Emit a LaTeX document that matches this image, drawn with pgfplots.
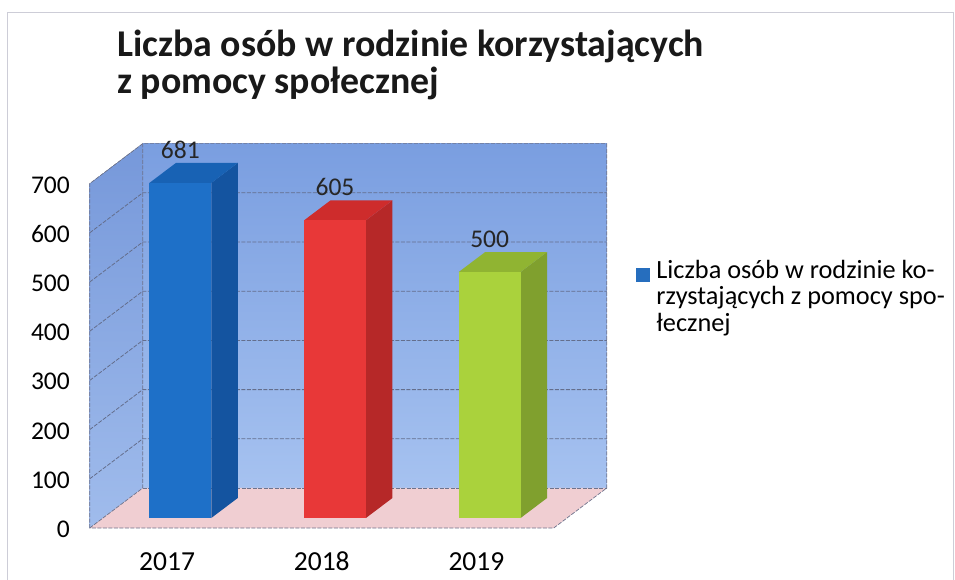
\documentclass[border=0pt]{standalone}
\usepackage{fontspec}
\setmainfont{Carlito}
\usepackage{pgfplots}
\pgfplotsset{compat=1.18}
\usetikzlibrary{calc}
\definecolor{walltop}{RGB}{122,158,224}
\definecolor{wallbot}{RGB}{166,194,240}
\definecolor{lwalltop}{RGB}{118,152,218}
\definecolor{lwallbot}{RGB}{160,188,236}
\definecolor{floorc}{RGB}{240,206,210}
\definecolor{gridc}{RGB}{100,110,140}
\definecolor{edgec}{RGB}{110,115,140}
\definecolor{bordergray}{RGB}{205,205,215}
\definecolor{bluefront}{RGB}{30,112,200}
\definecolor{blueside}{RGB}{20,84,160}
\definecolor{bluetop}{RGB}{24,98,180}
\definecolor{redfront}{RGB}{232,56,56}
\definecolor{redside}{RGB}{182,40,40}
\definecolor{redtop}{RGB}{206,44,44}
\definecolor{grnfront}{RGB}{170,210,60}
\definecolor{grnside}{RGB}{128,160,46}
\definecolor{grntop}{RGB}{144,180,50}
\definecolor{legblue}{RGB}{38,110,190}
% depth offsets: front plane F, back plane B, bar depth S
\def\Fx{-13.25bp}\def\Fy{-10bp}
\def\Bx{39.75bp}\def\By{30bp}
\def\Sx{26.5bp}\def\Sy{20bp}
\newcommand\barfaces[5]{% xl, xr, value, side colour, top colour
  \fill[#4] (axis cs:#2,0) -- (axis cs:#2,#3) -- ($(axis cs:#2,#3)+(\Sx,\Sy)$) -- ($(axis cs:#2,0)+(\Sx,\Sy)$) -- cycle;
  \fill[#5] (axis cs:#1,#3) -- (axis cs:#2,#3) -- ($(axis cs:#2,#3)+(\Sx,\Sy)$) -- ($(axis cs:#1,#3)+(\Sx,\Sy)$) -- cycle;
}
\begin{document}
\begin{tikzpicture}
\useasboundingbox (0,0) rectangle (955bp,580bp);
\fill[white] (0,0) rectangle (955bp,580bp);
\draw[bordergray, line width=0.8bp] (7bp,0) -- (7bp,568bp) -- (953bp,568bp) -- (953bp,0);
\node[anchor=base west, inner sep=0pt, text=black!90, font=\fontsize{37.8bp}{38bp}\selectfont\bfseries] at (117bp,523bp) {Liczba osób w rodzinie korzystających};
\node[anchor=base west, inner sep=0pt, text=black!90, font=\fontsize{37.8bp}{38bp}\selectfont\bfseries] at (117bp,486bp) {z pomocy społecznej};
\begin{axis}[
  at={(103bp,62bp)}, anchor=south west,
  width=464bp, height=344.4bp, scale only axis,
  xmin=0, xmax=3, ymin=0, ymax=700,
  clip=false,
  axis line style={draw=none},
  major tick length=0pt,
  xtick={0.5,1.5,2.5}, xticklabels={2017,2018,2019},
  ytick={0,100,...,700},
  /pgf/number format/assume math mode=true,
  tick label style={text=black, inner sep=0pt},
  yticklabel style={font=\fontsize{25.5bp}{30bp}\selectfont, anchor=base east, xshift=-33bp, yshift=-19.5bp},
  xticklabel style={font=\fontsize{27.5bp}{30bp}\selectfont, anchor=base, xshift=-13.25bp, yshift=-52bp},
  nodes near coords style={font=\fontsize{25.5bp}{30bp}\selectfont, text=black!85, inner sep=0pt, anchor=south, yshift=24bp},
  legend style={at={(axis description cs:1.1487,0.752)}, anchor=north west, draw=none, fill=none,
    inner sep=0pt, outer sep=0pt, font=\fontsize{26.3bp}{26.5bp}\selectfont,
    nodes={inner sep=0pt, text height=19bp, text depth=7.5bp},
    /tikz/column sep=7bp, /tikz/row sep=0pt},
  legend cell align=left,
]
% walls and floor
\fill[top color=walltop, bottom color=wallbot]
  ($(axis cs:0,0)+(\Bx,\By)$) rectangle ($(axis cs:3,700)+(\Bx,\By)$);
\fill[top color=lwalltop, bottom color=lwallbot]
  ($(axis cs:0,0)+(\Fx,\Fy)$) -- ($(axis cs:0,700)+(\Fx,\Fy)$) -- ($(axis cs:0,700)+(\Bx,\By)$) -- ($(axis cs:0,0)+(\Bx,\By)$) -- cycle;
\fill[floorc]
  ($(axis cs:0,0)+(\Fx,\Fy)$) -- ($(axis cs:3,0)+(\Fx,\Fy)$) -- ($(axis cs:3,0)+(\Bx,\By)$) -- ($(axis cs:0,0)+(\Bx,\By)$) -- cycle;
% grid lines on back and left walls
\pgfplotsinvokeforeach{100,200,300,400,500,600}{
  \draw[gridc, line width=0.8bp, dash pattern=on 4bp off 1.5bp]
    ($(axis cs:0,#1)+(\Fx,\Fy)$) -- ($(axis cs:0,#1)+(\Bx,\By)$) -- ($(axis cs:3,#1)+(\Bx,\By)$);
}
% outlines
\draw[edgec, line width=0.7bp, dash pattern=on 4bp off 1.5bp]
  ($(axis cs:0,0)+(\Fx,\Fy)$) -- ($(axis cs:0,700)+(\Fx,\Fy)$) -- ($(axis cs:0,700)+(\Bx,\By)$) -- ($(axis cs:3,700)+(\Bx,\By)$)
  -- ($(axis cs:3,0)+(\Bx,\By)$) -- ($(axis cs:3,0)+(\Fx,\Fy)$) -- cycle;
\draw[edgec, line width=0.7bp, dash pattern=on 4bp off 1.5bp]
  ($(axis cs:0,0)+(\Bx,\By)$) -- ($(axis cs:3,0)+(\Bx,\By)$);
\draw[edgec, line width=0.7bp, dash pattern=on 4bp off 1.5bp]
  ($(axis cs:0,0)+(\Fx,\Fy)$) -- ($(axis cs:0,0)+(\Bx,\By)$) -- ($(axis cs:0,700)+(\Bx,\By)$);
% 3D faces of the bars
\barfaces{0.3}{0.7}{681}{blueside}{bluetop}
\barfaces{1.3}{1.7}{605}{redside}{redtop}
\barfaces{2.3}{2.7}{500}{grnside}{grntop}
% front faces of the bars
\addplot[ybar, bar width=0.4, bar shift=0pt, fill=bluefront, draw=none, nodes near coords, forget plot]
  coordinates {(0.5,681)};
\addplot[ybar, bar width=0.4, bar shift=0pt, fill=redfront, draw=none, nodes near coords, forget plot]
  coordinates {(1.5,605)};
\addplot[ybar, bar width=0.4, bar shift=0pt, fill=grnfront, draw=none, nodes near coords, forget plot]
  coordinates {(2.5,500)};
% legend
\addlegendimage{legend image code/.code={\fill[legblue] (0bp,-9bp) rectangle (13bp,4bp);}}
\addlegendentry{Liczba osób w rodzinie ko-}
\addlegendimage{empty legend}
\addlegendentry{rzystających z pomocy spo-}
\addlegendimage{empty legend}
\addlegendentry{łecznej}
\end{axis}
\end{tikzpicture}
\end{document}
